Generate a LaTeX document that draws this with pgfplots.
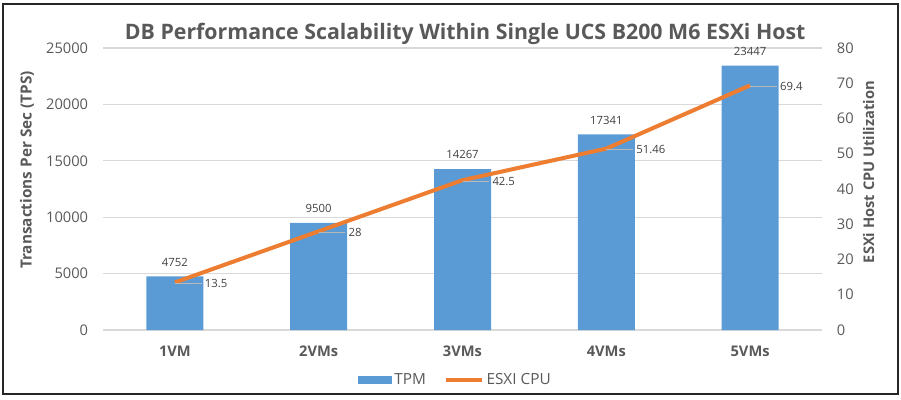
\documentclass[border=0pt]{standalone}
\usepackage{pgfplots}
\pgfplotsset{compat=1.18}
\usepackage{fontspec}
\setmainfont{Open Sans}
\definecolor{barblue}{HTML}{5B9BD5}
\definecolor{lineorange}{HTML}{ED7D31}
\definecolor{txtgray}{HTML}{595959}
\definecolor{gridgray}{HTML}{D9D9D9}
\definecolor{lblgray}{HTML}{404040}
\begin{document}
\begin{tikzpicture}
\pgfplotsset{
  base/.style={
    scale only axis, width=539.25pt, height=211.5pt,
    xmin=-0.5, xmax=4.5,
    /pgf/number format/assume math mode=true,
    ticklabel style={font=\fontsize{11}{13}\selectfont, text=txtgray},
    major tick length=0pt,
    axis line style={draw=none},
  }
}
\begin{axis}[base, name=ax,
  ymin=0, ymax=25000, ytick={0,5000,...,25000},
  scaled y ticks=false,
  yticklabel style={/pgf/number format/1000 sep={}, inner xsep=0pt, xshift=-11pt},
  ymajorgrids, grid style={gridgray, line width=0.9pt},
  xtick={0,...,4}, xticklabels={1VM,2VMs,3VMs,4VMs,5VMs},
  xticklabel style={font=\bfseries\fontsize{11}{13}\selectfont, text=txtgray, yshift=-8.5pt},
  ylabel={Transactions Per Sec (TPS)},
  every axis y label/.style={at={(axis description cs:-0.1057,0.567)}, rotate=90, anchor=center, font=\bfseries\fontsize{11.5}{13}\selectfont, text=txtgray},
  title={DB Performance Scalability Within Single UCS B200 M6 ESXi Host},
  title style={font=\bfseries\fontsize{16}{19}\selectfont, text=txtgray, at={(axis description cs:0.5,1)}, anchor=center, yshift=4.5pt, xshift=2pt},
  legend style={at={(axis description cs:0.5,0)}, anchor=center, yshift=-37.5pt, xshift=-5pt, draw=none, fill=none, legend columns=-1, font=\fontsize{11.5}{13}\selectfont, text=txtgray, /tikz/every even column/.append style={column sep=12pt}, inner sep=0pt},
  legend cell align=left,
]
\addplot[ybar, bar width=42.75pt, fill=barblue, draw=none,
  nodes near coords, every node near coord/.append style={font=\fontsize{8.5}{10}\selectfont, text=lblgray, yshift=4pt, /pgf/number format/1000 sep={}},
  legend image code/.code={\fill[barblue] (0pt,-3pt) rectangle (25pt,3pt);}]
  coordinates {(0,4752) (1,9500) (2,14267) (3,17341) (4,23447)};
\addlegendentry{TPM}
\addlegendimage{lineorange, line width=2.5pt, legend image code/.code={\draw[lineorange, line width=2.5pt] (0pt,0pt) -- (27pt,0pt);}}
\addlegendentry{ESXI CPU}
\end{axis}
\begin{axis}[base,
  ymin=0, ymax=80, ytick={0,10,...,80},
  axis y line*=right, axis x line=none,
  yticklabel style={inner xsep=0pt, xshift=11pt, anchor=west},
  ylabel={ESXi Host CPU Utilization},
  every axis y label/.style={at={(axis description cs:1.0650,0.560)}, rotate=90, anchor=center, font=\bfseries\fontsize{11}{13}\selectfont, text=txtgray},
]
\addplot[lineorange, line width=3pt, line join=round,
  nodes near coords, every node near coord/.append style={font=\fontsize{8.5}{10}\selectfont, text=lblgray, anchor=west, inner xsep=1pt, xshift=20pt, yshift=-1pt,
    append after command={(\tikzlastnode.west) edge[draw=gray!55, line width=0.8pt] +(-20pt,0pt)}}]
  coordinates {(0,13.5) (1,28) (2,42.5) (3,51.46) (4,69.4)};
\end{axis}
\draw[line width=1.5pt, black!85] ([xshift=-75pt,yshift=-48pt]ax.south west) rectangle ([xshift=57pt,yshift=33pt]ax.north east);
\pgfresetboundingbox
\path ([xshift=-77.25pt,yshift=-51.75pt]ax.south west) rectangle ([xshift=59.25pt,yshift=36pt]ax.north east);
\end{tikzpicture}
\end{document}
